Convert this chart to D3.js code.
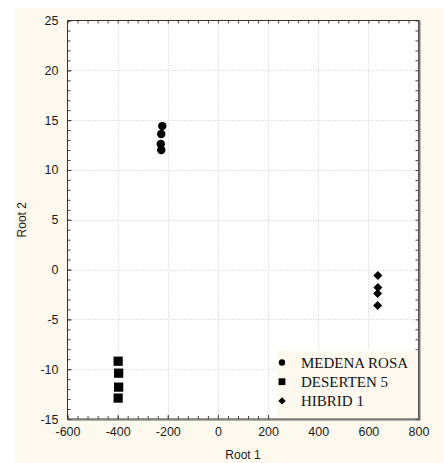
<!DOCTYPE html>
<html><head><meta charset="utf-8">
<script src="https://cdn.jsdelivr.net/npm/d3@7"></script>
<style>html,body{margin:0;padding:0;background:#fff;}svg{display:block;}</style>
</head><body>
<svg id="c" width="444" height="463"></svg>
<script>
const groups = ["MEDENA ROSA", "DESERTEN 5", "HIBRID 1"];
const medenaRoot1 = [-222, -226, -228, -226];
const medenaRoot2 = [14.4, 13.6, 12.6, 12.0];
const desertenRoot1 = [-398, -396, -396, -398];
const desertenRoot2 = [-9.2, -10.4, -11.8, -12.9];
const hibridRoot1 = [638, 638, 637, 637];
const hibridRoot2 = [-0.6, -1.8, -2.4, -3.6];
const xTicks = [-600, -400, -200, 0, 200, 400, 600, 800];
const yTicks = [-15, -10, -5, 0, 5, 10, 15, 20, 25];
const xLabel = "Root 1", yLabel = "Root 2";

const series = [
  {name: groups[0], xs: medenaRoot1, ys: medenaRoot2, sym: d3.symbolCircle, size: 56, lsize: 32},
  {name: groups[1], xs: desertenRoot1, ys: desertenRoot2, sym: d3.symbolSquare, size: 85, lsize: 46},
  {name: groups[2], xs: hibridRoot1, ys: hibridRoot2, sym: d3.symbolDiamond2, size: 52, lsize: 34}
];

const svg = d3.select("#c");
const L = 67.5, R = 418.5, T = 20.5, B = 419;
svg.append("rect").attr("x",15).attr("y",8).attr("width",444-15).attr("height",463-8).attr("fill","#fdf9ee");
svg.append("rect").attr("x",L).attr("y",T).attr("width",R-L).attr("height",B-T).attr("fill","#fff");

const x = d3.scaleLinear().domain([-600,800]).range([L,R]);
const y = d3.scaleLinear().domain([-15,25]).range([B,T]);

// grid
const gx = xTicks.slice(1,-1), gy = yTicks.slice(1,-1);
svg.append("g").selectAll("line").data(gx).join("line")
  .attr("x1",d=>Math.round(x(d))+0.5).attr("x2",d=>Math.round(x(d))+0.5).attr("y1",T).attr("y2",B)
  .attr("stroke","#c8c8c8").attr("stroke-dasharray","1,2");
svg.append("g").selectAll("line").data(gy).join("line")
  .attr("y1",d=>Math.round(y(d))+0.5).attr("y2",d=>Math.round(y(d))+0.5).attr("x1",L).attr("x2",R)
  .attr("stroke","#c8c8c8").attr("stroke-dasharray","1,2");

// minor ticks
const xMinor = d3.range(-600, 801, 40);
const yMinor = d3.range(-15, 25.01, 1);
function tickGroup(axis, tx, ty){
  const g = svg.append("g").attr("transform",`translate(${tx},${ty})`).call(axis);
  g.select(".domain").remove();
  g.selectAll("line").attr("stroke","#444");
  return g;
}
tickGroup(d3.axisBottom(x).tickValues(xMinor).tickSize(-3).tickFormat(""), 0, B);
tickGroup(d3.axisTop(x).tickValues(xMinor).tickSize(-3).tickFormat(""), 0, T);
tickGroup(d3.axisLeft(y).tickValues(yMinor).tickSize(-3).tickFormat(""), L, 0);
tickGroup(d3.axisRight(y).tickValues(yMinor).tickSize(-3).tickFormat(""), R, 0);

// major labels
const fmt = d => String(d);
const xa = tickGroup(d3.axisBottom(x).tickValues(xTicks).tickSize(-4).tickPadding(8).tickFormat(fmt), 0, B);
xa.selectAll("text").attr("font-family","Liberation Sans, Arial, sans-serif").attr("font-size",12.5).attr("fill","#1a1a1a");
const ya = tickGroup(d3.axisLeft(y).tickValues(yTicks).tickSize(-4).tickPadding(9).tickFormat(fmt), L, 0);
ya.selectAll("text").attr("font-family","Liberation Sans, Arial, sans-serif").attr("font-size",12.5).attr("fill","#1a1a1a");

// legend box
svg.append("rect").attr("x",277).attr("y",350.5).attr("width",R-277).attr("height",B-350.5).attr("fill","#fdf9ee");

// frame
svg.append("rect").attr("x",L).attr("y",T).attr("width",R-L).attr("height",B-T)
  .attr("fill","none").attr("stroke","#333").attr("stroke-width",1);
svg.append("line").attr("x1",R+1).attr("x2",R+1).attr("y1",T).attr("y2",B+1.5).attr("stroke","#777").attr("stroke-width",2);
svg.append("line").attr("x1",L).attr("x2",R+1).attr("y1",B+1).attr("y2",B+1).attr("stroke","#666").attr("stroke-width",1);

// points
series.forEach(s=>{
  svg.append("g").selectAll("path").data(s.xs.map((v,i)=>[v,s.ys[i]])).join("path")
    .attr("transform",d=>`translate(${x(d[0])},${y(d[1])})`)
    .attr("d",d3.symbol().type(s.sym).size(s.size)).attr("fill","#000");
});

// legend
const lg = svg.append("g");
series.forEach((s,i)=>{
  const cy = 362.5 + i*19.2;
  lg.append("path").attr("transform",`translate(282,${cy})`).attr("d",d3.symbol().type(s.sym).size(s.lsize)).attr("fill","#000");
  lg.append("text").attr("x",301).attr("y",cy+5.5).text(s.name)
    .attr("font-family","Liberation Serif, Times New Roman, serif").attr("font-size",15).attr("fill","#111");
});

// axis titles
svg.append("text").attr("x",(L+R)/2).attr("y",459).attr("text-anchor","middle").text(xLabel)
  .attr("font-family","Liberation Sans, Arial, sans-serif").attr("font-size",12).attr("fill","#1a1a1a");
svg.append("text").attr("transform",`translate(26,${(T+B)/2}) rotate(-90)`).attr("text-anchor","middle").text(yLabel)
  .attr("font-family","Liberation Sans, Arial, sans-serif").attr("font-size",12).attr("fill","#1a1a1a");
</script>
</body></html>
